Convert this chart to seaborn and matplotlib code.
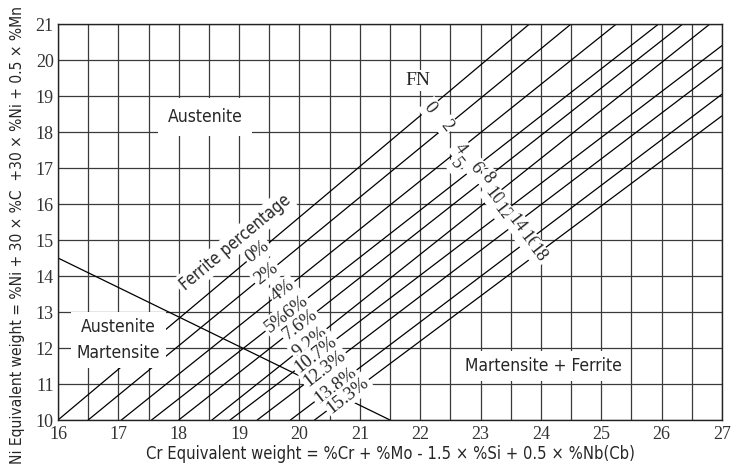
import numpy as np
import pandas as pd
import seaborn as sns
import matplotlib.pyplot as plt
from matplotlib import font_manager as fm

# axis ticks
cr_ticks = list(range(16, 28))
ni_ticks = list(range(10, 22))

# iso-ferrite lines (Cr eq, Ni eq) at the lower-left and upper-right ends
fn_labels = ['0', '2', '4', '6', '8', '10', '12', '14', '16', '18']
pct_labels = ['0%', '2%', '4%', '5%6%', '7.6%', '9.2%', '10.7%', '12.3%', '13.8%', '15.3%']
cr_start = [16.0, 16.5, 17.05, 17.55, 18.0, 18.55, 18.85, 19.3, 19.85, 20.25]
ni_start = [10, 10, 10, 10, 10, 10, 10, 10, 10, 10]
cr_end = [23.81, 24.5, 25.25, 25.95, 26.35, 26.8, 27.0, 27.0, 27.0, 27.0]
ni_end = [21, 21, 21, 21, 21, 21, 20.4, 19.8, 19.05, 18.45]

# where the labels sit along each line (Cr eq)
pct_cr = [19.31, 19.45, 19.73, 19.79, 20.01, 20.17, 20.27, 20.42, 20.6, 20.8]
fn_cr = [22.16, 22.44, 22.66, 22.91, 23.11, 23.21, 23.37, 23.6, 23.79, 23.94]

# austenite / martensite boundary
bound_cr = [16.0, 21.5]
bound_ni = [14.5, 10.0]

sns.set_style('white')
serif = ['Liberation Serif', 'DejaVu Serif']


def pick_narrow_font():
    # the chart uses a condensed sans; take one if it is installed
    for f in fm.fontManager.ttflist:
        name = f.name
        if 'Serif' in name or 'Mono' in name:
            continue
        if f.style != 'normal' or f.weight not in (400, 'normal', 'regular'):
            continue
        if 'Narrow' in name or 'Condensed' in name or f.stretch in ('condensed', 'semi-condensed'):
            return fm.FontProperties(fname=f.fname), 1.0
    return fm.FontProperties(family='Liberation Sans'), 0.9


sans, scale = pick_narrow_font()


def sans_fp(size):
    fp = sans.copy()
    fp.set_size(size * scale)
    return fp


fig = plt.figure(figsize=(7.34, 4.74), dpi=100)
ax = fig.add_axes([58 / 734, 54 / 474, 664 / 734, 396 / 474])

rows = []
for i in range(len(fn_labels)):
    rows.append({'line': i, 'cr': cr_start[i], 'ni': ni_start[i]})
    rows.append({'line': i, 'cr': cr_end[i], 'ni': ni_end[i]})
rows.append({'line': 99, 'cr': bound_cr[0], 'ni': bound_ni[0]})
rows.append({'line': 99, 'cr': bound_cr[1], 'ni': bound_ni[1]})
df = pd.DataFrame(rows)

sns.lineplot(data=df, x='cr', y='ni', units='line', estimator=None, sort=False,
             color='black', lw=0.9, ax=ax, zorder=2)


def ni_on_line(i, cr):
    s = (ni_end[i] - ni_start[i]) / (cr_end[i] - cr_start[i])
    return ni_start[i] + s * (cr - cr_start[i])


box = dict(facecolor='white', edgecolor='none', pad=1.5)
for i in range(len(fn_labels)):
    ax.text(pct_cr[i], ni_on_line(i, pct_cr[i]), pct_labels[i], family=serif,
            fontsize=13.5, rotation=38, ha='center', va='center',
            rotation_mode='anchor', bbox=box, zorder=4)
    ax.text(fn_cr[i], ni_on_line(i, fn_cr[i]), fn_labels[i], family=serif,
            fontsize=13, rotation=-52, ha='center', va='center',
            rotation_mode='anchor', bbox=box, zorder=4)
# stray "5" printed next to the FN 4 label
ax.text(22.6, 17.12, '5', family=serif, fontsize=13, rotation=-52, ha='center',
        va='center', rotation_mode='anchor', bbox=box, zorder=4)

ax.text(21.96, 19.44, 'FN', family=serif, fontsize=14, ha='center', va='center',
        bbox=box, zorder=4)
ax.text(18.93, 14.92, 'Ferrite percentage', fontproperties=sans_fp(12), rotation=40,
        ha='center', va='center', rotation_mode='anchor',
        bbox=dict(facecolor='white', edgecolor='none', pad=2), zorder=4)
ax.text(18.44, 18.42, 'Austenite', fontproperties=sans_fp(12.5), ha='center',
        va='center', bbox=dict(facecolor='white', edgecolor='none', pad=7), zorder=4)
ax.text(17.0, 12.22, 'Austenite\nMartensite', fontproperties=sans_fp(12.5),
        ha='center', va='center', multialignment='center', linespacing=1.6,
        bbox=dict(facecolor='white', edgecolor='none', pad=4), zorder=4)
ax.text(24.05, 11.5, 'Martensite + Ferrite', fontproperties=sans_fp(12.5),
        ha='center', va='center', bbox=dict(facecolor='white', edgecolor='none', pad=4),
        zorder=4)

ax.set_xlim(16, 27)
ax.set_ylim(10, 21)
ax.set_xticks(cr_ticks)
ax.set_yticks(ni_ticks)
ax.set_xticks(np.arange(16, 27.01, 0.5), minor=True)
ax.grid(axis='x', which='both', color='#3a3a3a', lw=0.9, zorder=1)
ax.grid(axis='y', which='major', color='#3a3a3a', lw=0.9, zorder=1)
ax.set_axisbelow(True)
ax.tick_params(which='both', length=0)
ax.tick_params(axis='x', pad=4)
ax.tick_params(axis='y', pad=3)
for lab in ax.get_xticklabels() + ax.get_yticklabels():
    lab.set_family(serif)
    lab.set_fontsize(13)
    lab.set_color('#333333')
for sp in ax.spines.values():
    sp.set_color('#222222')
    sp.set_linewidth(1.0)

ax.set_xlabel('Cr Equivalent weight = %Cr + %Mo - 1.5 × %Si + 0.5 × %Nb(Cb)',
              fontproperties=sans_fp(11.9))
ax.set_ylabel('Ni Equivalent weight = %Ni + 30 × %C  +30 × %Ni + 0.5 × %Mn',
              fontproperties=sans_fp(11.2))
ax.xaxis.set_label_coords(0.501, -0.062)
ax.yaxis.set_label_coords(-0.05, 0.467)

fig.savefig('out.png', dpi=100)
